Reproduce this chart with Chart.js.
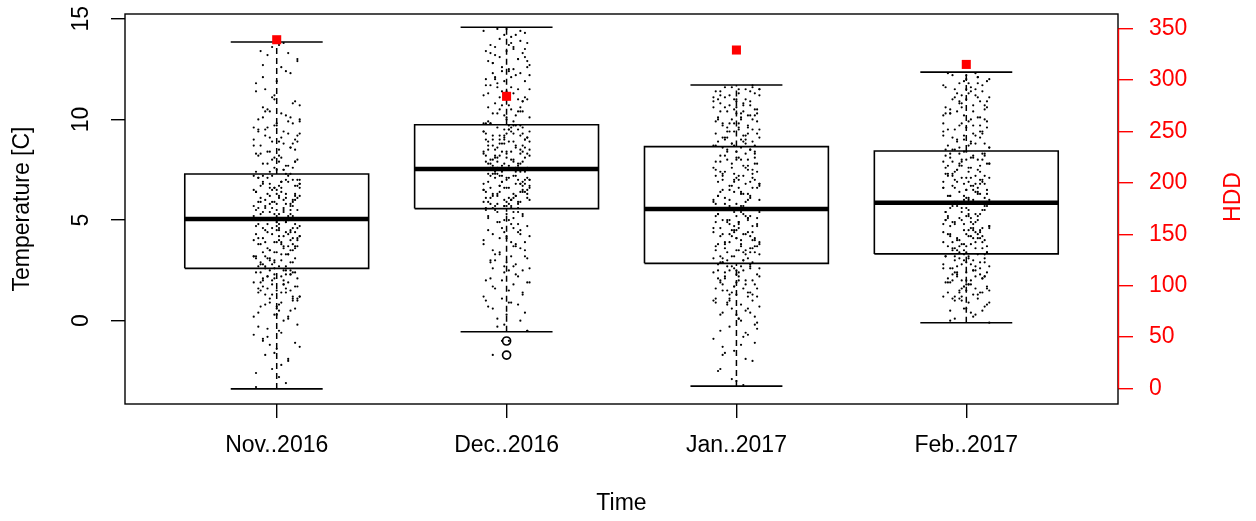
<!DOCTYPE html>
<html><head><meta charset="utf-8">
<script src="https://cdn.jsdelivr.net/npm/chart.js@4.4.0/dist/chart.umd.min.js"></script>
<style>html,body{margin:0;padding:0;background:#fff}#wrap{width:1256px;height:521px}</style>
</head><body><div id="wrap"><canvas id="c" width="1256" height="521"></canvas></div>
<script>
const categories = ['Nov..2016','Dec..2016','Jan..2017','Feb..2017'];
const lowerWhisker = [-3.39,-0.55,-3.25,-0.10];
const q1 = [2.60,5.57,2.85,3.32];
const median = [5.05,7.54,5.55,5.86];
const q3 = [7.29,9.74,8.65,8.43];
const upperWhisker = [13.85,14.58,11.71,12.35];
const outliers = [[],[-1.01,-1.71],[],[]];
const hdd = [339,284,329,315];
const tempTicks = [0,5,10,15];
const hddTicks = [0,50,100,150,200,250,300,350];

const novTemps = [13.8,13.4,13.7,12.9,13.2,12.3,11.8,12.6,11.2,10.9,
10.6,10.2,10.4,9.9,10.0,9.7,9.8,9.5,9.3,9.6,
9.1,8.9,9.2,8.7,8.8,8.4,8.6,8.2,8.3,7.9,
8.1,7.7,7.8,7.5,7.6,7.4,7.3,9.4,10.7,11.5,
8.5,9.0,7.9,8.0,10.1,12.1,7.5,8.9,9.6,11.0,
7.2,7.1,6.9,7.0,6.8,6.6,6.7,6.5,6.3,6.4,
6.2,6.0,6.1,5.9,5.8,5.7,5.6,5.5,5.4,5.3,
5.2,5.1,6.6,5.9,6.9,5.5,6.2,7.0,5.3,5.8,
6.4,5.1,6.7,5.6,6.0,7.2,5.4,6.5,5.7,6.8,
5.2,6.1,6.3,5.0,5.9,6.9,7.1,5.5,6.6,6.2,
5.0,4.9,4.8,4.7,4.6,4.5,4.4,4.3,4.2,4.1,
4.0,3.9,3.8,3.7,3.6,3.5,3.4,3.3,3.2,3.1,
3.0,2.9,2.8,2.7,4.7,3.9,4.4,3.2,4.9,3.6,
2.8,4.1,3.4,4.6,3.0,4.3,2.7,3.8,4.8,3.5,
4.2,3.1,4.5,2.9,3.7,4.0,3.3,4.9,2.6,4.6,
2.6,2.5,2.4,2.3,2.2,2.2,2.1,2.0,1.9,1.8,
1.7,1.6,1.5,1.4,1.3,1.2,1.1,1.0,0.8,0.7,
0.5,0.3,0.2,0.0,-0.2,-0.4,-0.6,-0.9,-1.1,-1.4,
-1.7,-2.0,-2.4,-2.8,-3.3,2.4,1.9,1.6,2.5,1.2,
0.9,2.1,1.5,0.4,1.8,2.3,1.0,-0.8,0.6,-1.9,
13.6,13.0,12.7,12.4,11.9,11.4,10.8,10.5,10.3,10.0,
9.9,9.7,9.5,9.4,9.2,9.0,8.9,8.7,8.6,8.4,
8.3,8.1,8.0,7.8,7.7,7.6,7.4,7.3,9.8,10.1,
8.5,9.1,7.5,8.2,9.3,10.4,7.9,8.8,11.1,13.3,
7.2,7.0,6.9,6.7,6.6,6.4,6.3,6.1,6.0,5.8,
5.7,5.5,5.4,5.2,5.1,6.8,6.5,6.2,5.9,5.6,
5.3,7.1,6.7,6.3,5.9,5.5,5.2,7.0,6.6,6.1,
5.7,5.3,6.9,6.4,6.0,5.6,5.1,7.2,6.8,5.8,
5.0,4.8,4.7,4.5,4.4,4.2,4.1,3.9,3.8,3.6,
3.5,3.3,3.2,3.0,2.9,2.7,4.9,4.6,4.3,4.0,
3.7,3.4,3.1,2.8,4.8,4.4,4.1,3.7,3.3,2.9,
4.6,4.2,3.9,3.5,3.1,2.7,4.5,3.8,3.2,4.0,
2.5,2.4,2.3,2.1,2.0,1.9,1.7,1.6,1.4,1.3,
1.1,0.9,0.8,0.6,0.3,0.1,-0.3,-0.5,-1.0,-1.3,
-1.6,-2.2,-2.6,-3.1,2.5,2.2,1.8,1.5,1.1,0.7,
0.2,-0.7,2.4,2.0,1.7,1.2,0.5,-1.2,2.3,1.4];
const novJitter = [3,-7,1,9,-4,6,-9,2,-1,8,
-6,4,-3,10,-8,0,7,-5,5,-10,
2,-2,9,-7,3,-4,6,1,-9,8,
-1,5,-6,0,7,-3,4,-8,10,-5,
1,-10,8,-2,6,-6,3,9,-4,-1,
5,-8,2,7,-3,10,-7,0,4,-9,
8,-5,1,-2,6,-10,3,9,-6,-1,
7,-4,2,-8,5,0,-3,10,-7,4,
-9,6,1,-5,8,-2,3,-10,7,-6,
0,9,-4,5,-1,2,-8,6,-3,10,
-7,4,8,-9,1,-5,6,-2,3,-6,
9,0,-8,5,-4,7,-1,2,-10,8,
-3,6,-7,1,10,-5,4,-9,0,3,
-2,7,-6,9,-1,5,-8,2,-4,6,
10,-3,1,-7,8,-10,4,0,-5,7,
-1,3,-9,6,-4,2,9,-6,5,-2,
8,-8,0,4,-5,10,-3,7,1,-7,
6,-1,-10,3,9,-4,2,-6,8,0,
-5,5,-2,1,-9,7,-7,4,-3,10,
2,-6,6,-8,3,-1,9,-4,0,5,
-2,9,-6,4,0,-9,7,-4,2,10,
5,-1,-8,3,-5,8,1,-10,6,-3,
-7,2,9,-4,4,-1,-9,6,0,-6,
8,-3,3,-8,10,-5,1,7,-2,5,
-10,4,-6,9,-1,2,8,-7,3,0,
6,-9,-3,5,-5,10,-2,1,7,-8,
1,-4,8,0,-7,3,-10,9,-1,4,
-5,6,2,-9,7,-2,5,-6,10,-3,
3,-8,0,6,-4,1,9,-1,-7,8,
-3,5,-10,2,7,-5,4,-2,-9,6,
9,0,-4,-6,1,8,-8,3,5,-1,
-6,10,2,-3,-9,4,0,7,-5,1,
4,-7,6,-1,3,-10,9,-4,2,-2,
7,-3,-5,8,0,5,-8,1,-6,10,
-1,2,-9,4,6,-4,3,-7,9,0,
5,-10,8,-2,-6,7,1,-3,4,-8];

const decTemps = [14.5,14.3,14.4,14.1,13.9,14.2,13.7,13.8,13.5,13.6,
13.3,13.1,13.4,12.9,13.0,12.7,12.8,12.5,12.4,12.2,
12.0,12.3,11.8,11.9,11.6,11.7,11.4,11.5,11.2,11.3,
11.0,11.1,10.8,10.9,10.6,10.7,10.4,10.5,10.2,10.3,
10.0,10.1,9.8,9.9,12.6,11.1,13.2,10.4,9.8,12.1,
9.7,9.6,9.5,9.4,9.3,9.2,9.1,9.0,8.9,8.8,
8.7,8.6,8.5,8.4,8.3,8.2,8.1,8.0,7.9,7.8,
7.7,7.6,9.5,8.8,9.1,7.9,8.4,9.6,8.0,8.7,
7.6,9.3,8.2,9.0,7.8,8.5,9.4,8.1,8.9,7.7,
9.2,8.3,9.7,8.6,7.6,9.0,8.4,7.8,9.3,8.0,
7.5,7.4,7.3,7.2,7.1,7.0,6.9,6.8,6.7,6.6,
6.5,6.4,6.3,6.2,6.1,6.0,5.9,5.8,5.7,5.6,
7.4,6.1,6.8,5.9,7.2,6.4,5.7,7.0,6.6,6.0,
7.3,5.8,6.9,6.3,7.1,5.6,6.7,6.2,7.5,6.5,
5.9,7.0,6.1,6.8,5.7,7.4,6.4,6.0,7.2,6.6,
5.5,5.4,5.3,5.2,5.0,4.9,4.7,4.6,4.4,4.3,
4.1,3.9,3.8,3.6,3.4,3.2,3.0,2.8,2.6,2.4,
2.2,2.0,1.8,1.6,1.3,1.1,0.9,0.6,0.4,0.1,
-0.2,-0.5,5.1,4.8,4.5,4.0,3.7,3.3,2.9,2.5,
2.1,1.5,0.8,5.4,4.2,3.5,2.7,-1.0,-1.7,1.9,
14.4,14.0,13.7,13.4,13.1,12.8,12.5,12.2,11.9,11.6,
11.3,11.0,10.7,10.4,10.1,9.8,14.2,13.8,13.3,12.9,
12.4,12.0,11.5,11.1,10.6,10.2,9.9,13.6,13.0,12.3,
11.7,10.9,10.3,14.5,12.6,11.4,10.5,9.8,13.5,12.1,
9.7,9.5,9.4,9.2,9.0,8.9,8.7,8.5,8.4,8.2,
8.0,7.9,7.7,7.6,9.6,9.3,9.0,8.8,8.5,8.3,
8.1,7.8,7.6,9.5,9.1,8.7,8.3,7.9,9.7,9.2,
8.6,8.1,7.7,9.4,8.9,8.4,7.8,9.0,8.2,7.6,
7.5,7.4,7.2,7.1,6.9,6.8,6.6,6.5,6.3,6.2,
6.0,5.9,5.7,5.6,7.3,7.0,6.7,6.4,6.1,5.8,
7.5,7.1,6.8,6.4,6.1,5.7,7.4,6.9,6.5,6.0,
5.6,7.2,6.6,6.2,5.8,7.3,6.7,6.3,5.9,7.0,
5.5,5.3,5.2,5.0,4.8,4.6,4.5,4.3,4.1,3.9,
3.7,3.5,3.3,3.1,2.9,2.7,2.5,2.3,2.0,1.7,
1.4,1.2,0.9,0.7,0.3,0.0,-0.3,-0.5,5.4,4.9,
4.4,3.8,3.2,2.6,1.9,1.0,5.1,4.2,3.0,-1.0];
const decJitter = [-4,8,-10,2,6,-1,-7,9,3,-5,
7,-3,0,-8,5,10,-6,1,-2,4,
-9,6,-4,8,2,-7,0,5,-10,3,
9,-1,-5,7,-8,1,6,-3,4,-6,
0,10,-9,3,-2,8,-5,5,-7,2,
6,-4,1,-10,7,-1,9,-6,3,-3,
-8,4,10,-2,0,-5,8,2,-9,6,
1,-7,5,-1,9,-4,-10,7,3,-6,
4,0,-3,8,-8,6,2,-5,10,-2,
-6,9,1,-4,5,-9,7,-1,3,-7,
8,-2,-5,4,0,10,-8,6,-3,1,
-10,7,3,-6,9,-1,5,-4,2,-9,
4,-7,8,0,-3,6,-5,10,-1,2,
-8,5,-2,9,1,-6,7,-4,3,-10,
6,0,-9,4,-1,8,-3,2,-7,10,
-5,3,7,-8,1,-4,9,-2,5,-6,
0,8,-10,6,-3,2,-7,4,10,-1,
5,-9,3,-5,7,-2,1,-6,8,-4,
-1,9,-8,2,6,-10,4,-3,0,7,
-7,1,5,-4,10,-6,3,-2,-6,9,
6,-3,1,-9,8,-6,3,10,-1,-4,
-8,5,-2,7,0,-10,4,2,-7,9,
1,-5,10,-3,6,-1,-8,3,5,-6,
-9,7,-4,0,9,-2,2,-7,8,-5,
4,-1,-10,6,-3,1,7,-8,0,10,
-6,3,5,-4,2,-9,8,-2,-5,6,
0,-7,9,1,-1,4,-10,7,3,-3,
8,-4,-6,10,-8,2,5,-1,-9,1,
-2,6,3,-5,7,-10,0,9,-4,4,
10,-8,-1,2,-6,5,-3,8,1,-7,
-4,9,6,-9,3,0,-5,-2,7,2,
5,-2,-7,4,1,-4,10,-6,-10,8,
-9,0,7,-1,5,3,-8,6,-3,2,
3,8,-5,9,-7,-1,1,4,-2,-6,
7,-10,2,-8,0,6,-4,9,5,-3,
-1,4,8,-6,10,-9,3,0,-5,1];

const janTemps = [11.7,11.6,11.5,11.4,11.3,11.2,11.1,11.0,10.9,10.8,
10.7,10.6,10.5,10.4,10.3,10.2,10.1,10.0,9.9,9.8,
9.7,9.6,9.5,9.4,9.3,9.2,9.1,9.0,8.9,8.8,
8.7,11.4,10.9,10.2,9.6,9.0,11.1,10.5,9.8,9.3,
10.7,8.8,11.0,9.5,10.0,8.7,10.4,9.1,11.5,9.9,
8.6,8.5,8.4,8.2,8.1,8.0,7.8,7.7,7.6,7.4,
7.3,7.2,7.0,6.9,6.8,6.6,6.5,6.4,6.2,6.1,
6.0,5.8,5.7,5.6,8.3,7.9,7.5,7.1,6.7,6.3,
5.9,8.5,7.0,6.6,8.1,5.7,7.6,6.2,7.3,6.9,
8.4,5.8,7.8,6.4,7.2,6.0,8.0,6.8,7.4,5.6,
5.5,5.4,5.3,5.2,5.1,5.0,4.9,4.8,4.7,4.6,
4.5,4.4,4.3,4.2,4.1,4.0,3.9,3.8,3.7,3.6,
3.5,3.4,3.3,3.2,3.1,3.0,2.9,5.3,4.8,4.2,
3.7,3.1,5.0,4.5,3.9,3.4,2.9,5.4,4.1,3.6,
4.7,3.3,5.2,4.4,3.0,4.9,3.8,4.3,3.5,5.1,
2.8,2.7,2.6,2.5,2.4,2.3,2.2,2.1,2.0,1.9,
1.8,1.7,1.6,1.5,1.4,1.3,1.1,1.0,0.9,0.7,
0.6,0.4,0.3,0.1,-0.1,-0.3,-0.6,-0.9,-1.2,-1.6,
-2.0,-2.5,-3.0,-3.2,2.6,2.2,1.8,1.2,0.8,0.2,
2.4,1.6,2.7,1.4,0.5,2.0,-0.4,1.0,2.5,-1.3,
11.6,11.5,11.3,11.2,11.0,10.9,10.7,10.6,10.4,10.3,
10.1,10.0,9.8,9.7,9.5,9.4,9.2,9.1,8.9,8.8,
8.7,11.4,11.0,10.6,10.2,9.8,9.4,9.0,8.7,11.6,
10.8,10.0,9.3,11.2,10.5,9.6,8.9,11.5,10.3,9.1,
8.6,8.4,8.3,8.1,7.9,7.7,7.5,7.4,7.2,7.0,
6.8,6.7,6.5,6.3,6.1,6.0,5.8,5.6,8.5,8.0,
7.6,7.1,6.6,6.2,5.7,8.2,7.8,7.3,6.9,6.4,
5.9,8.4,7.5,6.7,6.0,8.0,7.2,6.3,5.6,7.0,
5.5,5.3,5.2,5.0,4.9,4.7,4.6,4.4,4.3,4.1,
4.0,3.8,3.7,3.5,3.4,3.2,3.1,2.9,5.4,5.0,
4.6,4.2,3.8,3.4,3.0,5.2,4.8,4.4,4.0,3.6,
3.2,5.5,4.5,3.7,2.9,5.1,4.3,3.5,4.9,3.9,
2.8,2.7,2.5,2.4,2.3,2.1,2.0,1.8,1.7,1.5,
1.3,1.2,1.0,0.8,0.6,0.4,0.1,-0.2,-0.5,-0.8,
-1.1,-1.5,-1.9,-2.4,-2.9,2.6,2.2,1.9,1.4,0.9,
0.3,-0.7,2.7,2.0,1.6,1.1,0.0,2.5,1.3,-1.7];
const janJitter = [7,-2,4,-9,1,10,-5,-1,6,-7,
3,-10,8,-4,0,5,-8,2,9,-3,
-6,1,7,-1,-9,4,10,-5,3,-2,
8,-7,0,6,-4,2,-10,9,-6,5,
-3,4,-8,1,7,-1,3,-5,10,-9,
2,6,-4,-7,8,0,-2,5,-10,9,
-6,3,1,-8,4,7,-3,-1,6,-5,
10,-9,2,-4,8,-7,5,0,-2,3,
-10,6,-6,9,1,-3,4,-8,7,-1,
0,-5,8,2,-9,5,-4,10,-7,3,
6,-1,-8,4,9,-6,1,-3,7,-10,
-2,5,3,-7,0,8,-5,2,-9,6,
4,-4,10,-1,-6,3,7,-8,1,-2,
9,-10,5,0,-3,6,-7,2,8,-5,
-1,4,-9,7,3,-4,10,-6,0,5,
-8,2,6,-3,-10,9,1,-5,4,-7,
8,-1,3,-6,5,0,-9,7,-4,10,
-2,6,-7,1,9,-3,4,-10,2,-5,
7,-8,0,3,-1,10,-6,5,-4,8,
1,-9,6,-2,4,-7,9,-3,0,-6,
-5,1,8,-3,4,-10,6,0,-7,9,
2,-8,-1,5,10,-4,3,-6,7,-2,
-9,6,0,-5,8,1,-3,4,-10,7,
3,-2,9,-7,-1,5,-8,10,2,-4,
-6,8,4,0,-9,3,7,-5,1,-1,
10,-3,-6,2,6,-10,0,8,-4,5,
-2,7,1,-8,3,-5,9,-1,6,-7,
4,0,-9,10,-3,2,-6,5,-2,8,
-10,3,6,-4,1,9,-7,-1,4,0,
7,-5,2,-9,8,-2,5,-6,10,-3,
1,6,-8,3,-4,0,9,-10,2,7,
-7,4,-1,8,-6,5,-3,1,-9,10,
6,-2,3,-5,0,-8,7,4,-1,-4,
-3,9,-10,2,5,-6,1,8,-7,3,
8,-1,4,-7,-2,10,-5,0,6,-9,
0,5,-4,1,9,-3,2,-8,7,-6];

const febTemps = [12.3,12.1,12.2,11.9,11.8,11.6,11.7,11.4,11.5,11.2,
11.3,11.0,11.1,10.8,10.9,10.6,10.7,10.4,10.5,10.2,
10.3,10.0,10.1,9.8,9.9,9.6,9.7,9.4,9.5,9.2,
9.3,9.0,9.1,8.8,8.9,8.6,8.7,8.5,11.8,10.6,
9.4,11.1,8.8,10.3,12.0,9.7,8.6,10.9,9.2,11.5,
8.4,8.3,8.2,8.1,8.0,7.9,7.8,7.7,7.6,7.5,
7.4,7.3,7.2,7.1,7.0,6.9,6.8,6.7,6.6,6.5,
6.4,6.3,6.2,6.1,6.0,5.9,8.2,7.6,7.0,6.5,
6.0,8.0,7.3,6.8,6.2,7.8,7.1,6.6,8.3,5.9,
7.5,6.9,6.3,7.9,6.7,8.1,7.2,6.1,7.7,6.4,
5.8,5.7,5.6,5.5,5.4,5.3,5.2,5.1,5.0,4.9,
4.8,4.7,4.6,4.5,4.4,4.3,4.2,4.1,4.0,3.9,
3.8,3.7,3.6,3.5,3.4,5.6,5.0,4.4,3.8,5.3,
4.7,4.1,3.5,5.8,4.9,4.3,3.7,5.2,4.6,4.0,
3.4,5.5,4.8,4.2,3.6,5.1,4.5,3.9,5.7,3.3,
3.3,3.2,3.1,3.0,2.9,2.8,2.7,2.6,2.5,2.4,
2.3,2.2,2.1,2.0,1.9,1.8,1.7,1.6,1.5,1.4,
1.3,1.2,1.1,1.0,0.9,0.7,0.5,0.3,0.1,-0.1,
3.2,2.9,2.6,2.3,2.0,1.7,1.4,1.1,0.8,3.1,
2.7,2.4,2.1,1.8,1.5,1.2,2.5,1.9,0.6,2.2,
12.3,12.2,12.0,11.9,11.7,11.6,11.4,11.3,11.1,11.0,
10.8,10.7,10.5,10.4,10.2,10.1,9.9,9.8,9.6,9.5,
9.3,9.2,9.0,8.9,8.7,8.6,8.5,12.1,11.5,10.9,
10.3,9.7,9.1,8.5,11.8,11.2,10.0,9.4,8.8,10.6,
8.4,8.3,8.1,8.0,7.8,7.7,7.5,7.4,7.2,7.1,
6.9,6.8,6.6,6.5,6.3,6.2,6.0,5.9,8.2,7.9,
7.6,7.3,7.0,6.7,6.4,6.1,8.3,7.8,7.2,6.6,
6.0,8.0,7.4,6.8,6.2,7.7,7.1,6.5,5.9,6.9,
5.8,5.7,5.5,5.4,5.2,5.1,4.9,4.8,4.6,4.5,
4.3,4.2,4.0,3.9,3.7,3.6,3.4,5.6,5.3,5.0,
4.7,4.4,4.1,3.8,3.5,5.7,5.2,4.6,4.1,3.6,
5.4,4.9,4.3,3.7,5.0,4.5,3.9,3.4,4.8,4.2,
3.3,3.2,3.0,2.9,2.8,2.6,2.5,2.4,2.2,2.1,
2.0,1.8,1.7,1.6,1.4,1.3,1.1,0.9,0.6,0.4,
0.2,0.0,3.1,2.7,2.3,1.9,1.5,1.0,0.5,3.2,
2.8,2.4,2.0,1.6,1.2,3.0,2.6,2.2,1.8,1.4];
const febJitter = [-8,5,0,9,-3,2,-10,7,-5,4,
1,-6,10,-2,6,-9,3,-4,8,-1,
-7,2,5,-10,9,0,-3,6,-8,4,
3,-1,-6,8,-4,10,1,-9,5,-2,
7,-5,2,-7,0,6,-3,9,-10,4,
-1,8,-9,3,5,-6,10,-2,1,-4,
6,-8,4,0,-5,7,-1,2,-10,9,
-3,5,-7,8,1,-4,3,-9,6,0,
10,-2,-6,4,-8,9,2,-5,7,-1,
-4,1,6,-10,3,-7,8,0,-3,5,
9,-6,-2,7,-9,4,0,-8,5,2,
-5,10,3,-1,6,-7,1,-4,8,-10,
2,-3,7,-6,9,0,-9,4,-2,6,
-7,3,-1,10,-5,5,-8,1,7,-4,
0,8,-10,2,4,-3,6,-6,9,-1,
5,-9,1,-5,8,-2,10,-7,3,-4,
-6,4,7,0,-8,2,-1,9,-3,6,
3,-10,5,-2,1,8,-7,4,-5,10,
-9,0,6,-4,2,-1,7,-6,9,-3,
4,-5,-8,1,10,-2,3,-7,0,8,
4,-6,10,-1,7,-9,2,-4,5,0,
-3,8,-7,3,-10,6,1,-2,9,-5,
7,-1,-4,2,-8,10,-6,5,0,-3,
-9,3,6,-5,1,-2,8,-10,4,9,
0,-7,2,7,-3,-8,5,1,-6,10,
-4,6,-10,0,9,-1,3,-5,8,-2,
2,-9,7,-6,4,1,-3,10,-8,5,
-1,0,-5,8,-7,6,-2,3,9,-10,
6,-4,1,-9,5,2,-6,-1,10,3,
-8,7,-3,4,0,-5,9,-7,1,-2,
10,-10,5,-1,-4,8,-8,2,6,-6,
-2,4,0,9,-9,1,7,-3,3,-7,
8,-5,-1,6,2,-10,4,0,-4,7,
-6,1,9,-2,-8,5,-3,10,-1,2,
3,-7,8,-4,6,-9,0,-5,7,1,
-10,9,-2,4,-5,3,-6,8,0,-3];

const pointTemps = [novTemps, decTemps, janTemps, febTemps];
const pointJitter = [novJitter, decJitter, janJitter, febJitter];

const FONT = "'Liberation Sans', Arial, sans-serif";
const FS = 23;
const BOX_HALF = 0.4, CAP_HALF = 0.2, JIT_SCALE = 0.01;

const datasets = [];
datasets.push({
  label: 'HDD', yAxisID: 'y2', order: 0,
  data: hdd.map((v, i) => ({x: i + 1, y: v})),
  pointStyle: 'rect', pointRadius: 6.4, pointHoverRadius: 6.4,
  backgroundColor: '#ff0000', borderColor: '#ff0000', borderWidth: 0, showLine: false
});
pointTemps.forEach((arr, i) => {
  datasets.push({
    label: 'pts' + i, yAxisID: 'y', order: 1,
    data: arr.map((t, k) => ({x: i + 1 + pointJitter[i][k] * JIT_SCALE, y: t})),
    pointStyle: 'circle', pointRadius: 1.1, pointHoverRadius: 1.1,
    backgroundColor: '#000', borderWidth: 0, showLine: false
  });
});
function lineDs(pts, width, dash) {
  return {
    yAxisID: 'y', order: 2, data: pts, showLine: true, fill: false, tension: 0,
    borderColor: '#000', borderWidth: width, borderDash: dash || [],
    borderCapStyle: 'butt', borderJoinStyle: 'miter',
    pointRadius: 0, pointHoverRadius: 0, backgroundColor: '#000'
  };
}
categories.forEach((c, i) => {
  const x = i + 1;
  datasets.push(lineDs([{x: x - BOX_HALF, y: q1[i]}, {x: x + BOX_HALF, y: q1[i]}, {x: x + BOX_HALF, y: q3[i]}, {x: x - BOX_HALF, y: q3[i]}, {x: x - BOX_HALF, y: q1[i]}], 1.6));
  datasets.push(lineDs([{x: x - BOX_HALF, y: median[i]}, {x: x + BOX_HALF, y: median[i]}], 4.5));
  datasets.push(lineDs([{x: x, y: q3[i]}, {x: x, y: upperWhisker[i]}], 1.5, [6, 4]));
  datasets.push(lineDs([{x: x, y: lowerWhisker[i]}, {x: x, y: q1[i]}], 1.5, [6, 4]));
  datasets.push(lineDs([{x: x - CAP_HALF, y: upperWhisker[i]}, {x: x + CAP_HALF, y: upperWhisker[i]}], 1.6));
  datasets.push(lineDs([{x: x - CAP_HALF, y: lowerWhisker[i]}, {x: x + CAP_HALF, y: lowerWhisker[i]}], 1.6));
  if (outliers[i].length) {
    datasets.push({
      yAxisID: 'y', order: 1, showLine: false,
      data: outliers[i].map(v => ({x: x, y: v})),
      pointStyle: 'circle', pointRadius: 4, pointHoverRadius: 4,
      backgroundColor: 'rgba(0,0,0,0)', borderColor: '#000', borderWidth: 1.7
    });
  }
});

const framePlugin = {
  id: 'frame',
  afterDatasetsDraw(chart) {
    const {ctx, chartArea: a} = chart;
    ctx.save();
    ctx.strokeStyle = '#000';
    ctx.lineWidth = 1.4;
    ctx.strokeRect(a.left, a.top, a.right - a.left, a.bottom - a.top);
    const y2 = chart.scales.y2;
    ctx.strokeStyle = '#ff0000';
    ctx.lineWidth = 1.4;
    ctx.beginPath();
    ctx.moveTo(a.right + 0.5, y2.getPixelForValue(hddTicks[0]));
    ctx.lineTo(a.right + 0.5, y2.getPixelForValue(hddTicks[hddTicks.length - 1]));
    ctx.stroke();
    ctx.fillStyle = '#ff0000';
    ctx.font = FS + 'px ' + FONT;
    ctx.textAlign = 'center';
    ctx.textBaseline = 'middle';
    ctx.translate(1234, 197);
    ctx.rotate(-Math.PI / 2);
    ctx.fillText('HDD', 0, 0);
    ctx.restore();
  }
};

function noVPad(s) { s.paddingTop = 0; s.paddingBottom = 0; }

new Chart(document.getElementById('c'), {
  type: 'scatter',
  data: {datasets},
  options: {
    responsive: false, animation: false, devicePixelRatio: 1, events: [],
    layout: {padding: {top: 14, left: 0, right: 0, bottom: 0}},
    plugins: {legend: {display: false}, tooltip: {enabled: false}},
    scales: {
      x: {
        type: 'linear', position: 'bottom', min: 0.34, max: 4.66,
        afterBuildTicks: s => { s.ticks = categories.map((c, i) => ({value: i + 1})); },
        afterFit: s => { s.height = 117; s.paddingLeft = 0; s.paddingRight = 0; },
        ticks: {
          autoSkip: false, maxRotation: 0, minRotation: 0, padding: 14, color: '#000',
          font: {family: FONT, size: FS},
          callback: v => categories[Math.round(v) - 1]
        },
        grid: {display: true, drawOnChartArea: false, drawTicks: true, tickLength: 14, color: '#000', lineWidth: 1.4},
        border: {display: false},
        title: {display: true, text: 'Time', color: '#000', font: {family: FONT, size: FS}, padding: {top: 0, bottom: 4}}
      },
      y: {
        type: 'linear', position: 'left', min: -4.14, max: 15.24,
        afterBuildTicks: s => { s.ticks = tempTicks.map(v => ({value: v})); },
        afterFit: s => { s.width = 125; noVPad(s); },
        ticks: {
          autoSkip: false, minRotation: 90, maxRotation: 90, crossAlign: 'center', padding: 17, color: '#000',
          font: {family: FONT, size: FS}
        },
        grid: {display: true, drawOnChartArea: false, drawTicks: true, tickLength: 14, color: '#000', lineWidth: 1.4},
        border: {display: false},
        title: {display: true, text: 'Temperature [C]', color: '#000', font: {family: FONT, size: FS}, padding: {top: 9, bottom: 0}}
      },
      y2: {
        type: 'linear', position: 'right', min: -15, max: 364,
        afterBuildTicks: s => { s.ticks = hddTicks.map(v => ({value: v})); },
        afterFit: s => { s.width = 138; noVPad(s); },
        ticks: {autoSkip: false, padding: 16, color: '#ff0000', font: {family: FONT, size: FS}},
        grid: {display: true, drawOnChartArea: false, drawTicks: true, tickLength: 15, color: '#ff0000', lineWidth: 1.4},
        border: {display: false},
        title: {display: false}
      }
    }
  },
  plugins: [framePlugin]
});
</script>
</body></html>
